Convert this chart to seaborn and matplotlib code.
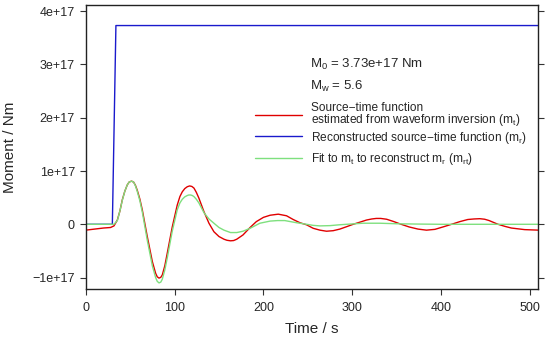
import matplotlib
matplotlib.use("Agg")
import matplotlib.pyplot as plt
import seaborn as sns
import numpy as np
import pandas as pd

# ---- data (moment in units of 1e17 Nm) ----
t_red = [0, 10, 20, 28, 31.8, 35.6, 38.5, 41.2, 44, 46.8, 49, 51.7, 54, 56, 58, 61, 63.7,
         69.3, 75, 78.7, 80.5, 82.5, 84.5, 86.2, 89, 91.8, 97.4, 103, 106, 108.7, 111.5,
         114.3, 117, 119.5, 121.8, 124.5, 127.4, 133, 138.7, 144.3, 150, 155.6, 159, 163,
         166.5, 170, 177, 185, 192, 200, 207.5, 216.7, 226, 233.5, 241, 248.6, 256, 263.6,
         271, 278.5, 286, 293.6, 301, 308.6, 316, 322, 327, 332, 338.6, 346, 355, 364, 374,
         383.5, 393, 402, 411.7, 421, 430, 437, 443.5, 449, 454, 464, 472, 479, 494, 510]
m_red = [-0.11, -0.09, -0.07, -0.06, -0.03, 0.08, 0.25, 0.46, 0.62, 0.74, 0.795, 0.81, 0.79,
         0.73, 0.64, 0.47, 0.27, -0.23, -0.70, -0.92, -0.985, -1.01, -0.995, -0.95, -0.78,
         -0.54, -0.05, 0.36, 0.52, 0.61, 0.67, 0.705, 0.72, 0.71, 0.68, 0.60, 0.49, 0.24,
         0.02, -0.14, -0.23, -0.28, -0.30, -0.31, -0.305, -0.28, -0.20, -0.06, 0.05, 0.13,
         0.17, 0.19, 0.16, 0.09, 0.03, -0.01, -0.075, -0.11, -0.13, -0.12, -0.09, -0.045,
         0.0, 0.04, 0.08, 0.10, 0.11, 0.11, 0.095, 0.055, 0.0, -0.05, -0.09, -0.11, -0.095,
         -0.05, 0.0, 0.05, 0.09, 0.10, 0.105, 0.095, 0.07, 0.0, -0.04, -0.07, -0.10, -0.11]

t_green = [0, 30, 31.8, 35.6, 38.5, 41.2, 44, 46.8, 49, 51.7, 54, 56, 58, 61, 63.7, 69.3, 75,
           78.7, 80.5, 82.5, 84.5, 86.2, 89, 91.8, 97.4, 103, 106, 108.7, 111.5, 114.3, 116,
           118, 120, 121.8, 124.5, 127.4, 133, 138.7, 144.3, 150, 155.6, 163, 170, 177, 185,
           196, 207.5, 216, 224, 237, 248.6, 256, 263.6, 275, 285, 293.6, 303, 312, 331, 350,
           370, 400, 450, 510]
m_green = [0, 0, 0.0, 0.07, 0.25, 0.45, 0.62, 0.74, 0.795, 0.81, 0.79, 0.72, 0.62, 0.44,
           0.23, -0.30, -0.78, -1.0, -1.07, -1.10, -1.085, -1.03, -0.86, -0.63, -0.13, 0.27,
           0.40, 0.47, 0.515, 0.54, 0.55, 0.55, 0.54, 0.52, 0.47, 0.40, 0.22, 0.10, 0.02,
           -0.06, -0.11, -0.155, -0.155, -0.13, -0.075, 0.02, 0.06, 0.07, 0.07, 0.03, 0.0,
           -0.02, -0.03, -0.025, -0.01, 0.0, 0.01, 0.02, 0.02, 0.01, 0.005, 0.0, 0.0, 0.0]

t_blue = [0, 30, 34, 510]
m_blue = [0, 0, 3.73, 3.73]

x_ticks = [0, 100, 200, 300, 400, 500]
y_ticks = [-1, 0, 1, 2, 3, 4]
y_ticklabels = ["\u22121e+17", "0", "1e+17", "2e+17", "3e+17", "4e+17"]

labels = ["Source\u2212time function\nestimated from waveform inversion (m$_\\mathregular{t}$)",
          "Reconstructed source\u2212time function (m$_\\mathregular{r}$)",
          "Fit to m$_\\mathregular{t}$ to reconstruct m$_\\mathregular{r}$ (m$_\\mathregular{rt}$)"]

sns.set_style("white")
plt.rcParams["font.family"] = ["Liberation Sans", "DejaVu Sans"]
plt.rcParams["mathtext.fontset"] = "custom"
plt.rcParams["mathtext.rm"] = "Liberation Sans"
plt.rcParams["mathtext.it"] = "Liberation Sans"

fig = plt.figure(figsize=(5.45, 3.37), dpi=100)
ax = fig.add_axes([85.7 / 545, 1 - 289.3 / 337, (538 - 85.7) / 545, (289.3 - 5.3) / 337])

df_red = pd.DataFrame({"t": t_red, "m": np.array(m_red) * 1e17})
df_blue = pd.DataFrame({"t": t_blue, "m": np.array(m_blue) * 1e17})
df_green = pd.DataFrame({"t": t_green, "m": np.array(m_green) * 1e17})

sns.lineplot(data=df_red, x="t", y="m", ax=ax, color="#e00000", lw=1.0, label=labels[0])
sns.lineplot(data=df_blue, x="t", y="m", ax=ax, color="#1a1acc", lw=1.0, label=labels[1])
sns.lineplot(data=df_green, x="t", y="m", ax=ax, color="#7ee07e", lw=1.0, label=labels[2])

ax.set_xlim(0, 509)
ax.set_ylim(-1.22e17, 4.11e17)
ax.set_xticks(x_ticks)
ax.set_xticklabels([str(v) for v in x_ticks])
ax.set_yticks([v * 1e17 for v in y_ticks])
ax.set_yticklabels(y_ticklabels)
ax.tick_params(axis="both", direction="out", length=4.3, width=0.8, color="#333333",
               labelsize=9, bottom=True, left=True)
ax.tick_params(axis="x", pad=5)
ax.tick_params(axis="y", right=True, pad=3.5)
for s in ax.spines.values():
    s.set_linewidth(1.0)
    s.set_color("#222222")

ax.set_xlabel("Time / s", fontsize=11, labelpad=5.5)
ax.set_ylabel("Moment / Nm", fontsize=11, labelpad=11)

ax.text(0.496, 0.790, "M$_\\mathregular{0}$ = 3.73e+17 Nm", transform=ax.transAxes,
        fontsize=9.5, va="center", ha="left")
ax.text(0.496, 0.713, "M$_\\mathregular{w}$ = 5.6", transform=ax.transAxes,
        fontsize=9.5, va="center", ha="left")

handles, labs = ax.get_legend_handles_labels()
leg_kw = dict(bbox_transform=fig.transFigure, frameon=False, fontsize=8.6,
              handlelength=3.9, handletextpad=0.75, borderpad=0, borderaxespad=0,
              loc="center left")

leg1 = ax.legend(handles[:1], labs[:1], bbox_to_anchor=(255 / 545, 1 - 115 / 337), **leg_kw)
for txt in leg1.get_texts():
    txt.set_linespacing(0.8)
for col in leg1._legend_handle_box.get_children():
    for hp in col.get_children():
        hp.align = "center"
ax.add_artist(leg1)

leg2 = ax.legend(handles[1:], labs[1:], bbox_to_anchor=(255 / 545, 1 - 148.5 / 337),
                 labelspacing=0.5, **leg_kw)

fig.savefig("out.png", dpi=100)
